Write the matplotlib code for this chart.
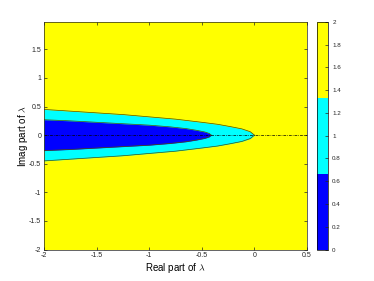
import matplotlib
matplotlib.use('Agg')
import matplotlib.pyplot as plt
import numpy as np
from matplotlib.colors import ListedColormap, Normalize
from matplotlib.cm import ScalarMappable

plt.rcParams['font.family'] = ['Liberation Sans', 'DejaVu Sans']
plt.rcParams['mathtext.fontset'] = 'cm'

# boundary of the region with 1 (cyan) root count, half width vs real part
cyan_x = [-2.0, -1.75, -1.5, -1.25, -1.0, -0.75, -0.5, -0.35, -0.23, -0.12, -0.04, 0.0]
cyan_h = [0.45, 0.42, 0.39, 0.36, 0.32, 0.28, 0.225, 0.19, 0.15, 0.11, 0.06, 0.0]
# boundary of the region with 0 (blue)
blue_x = [-2.0, -1.75, -1.5, -1.25, -1.0, -0.8, -0.65, -0.55, -0.47, -0.43, -0.41]
blue_h = [0.27, 0.25, 0.225, 0.2, 0.175, 0.145, 0.115, 0.085, 0.055, 0.03, 0.0]

levels = [0, 1, 2]
colors = ['#0000ff', '#00ffff', '#ffff00']
cb_ticks = np.arange(0, 2.01, 0.2)

fig = plt.figure(figsize=(3.74, 2.81), dpi=100)
ax = fig.add_axes([0.1176, 0.112, 0.7034, 0.81])
cax = fig.add_axes([0.8476, 0.112, 0.0294, 0.81])

ax.set_facecolor(colors[2])
edge = '#4d4d00'
ax.fill_between(cyan_x, -np.array(cyan_h), cyan_h, color=colors[1], lw=0)
ax.fill_between(blue_x, -np.array(blue_h), blue_h, color=colors[0], lw=0)
for bx, bh in [(cyan_x, cyan_h), (blue_x, blue_h)]:
    ax.plot(bx, bh, color=edge, lw=0.5)
    ax.plot(bx, -np.array(bh), color=edge, lw=0.5)
ax.plot([-2, 0.5], [0, 0], color='k', lw=0.5, ls='-.', dashes=(4, 1.5, 1, 1.5))

ax.set_xlim(-2, 0.5)
ax.set_ylim(-2, 1.98)
ax.set_xticks(np.arange(-2, 0.51, 0.5))
ax.set_xticklabels(['-2', '-1.5', '-1', '-0.5', '0', '0.5'])
ax.set_yticks(np.arange(-2, 1.51, 0.5))
ax.set_yticklabels(['-2', '-1.5', '-1', '-0.5', '0', '0.5', '1', '1.5'])
ax.tick_params(direction='in', length=2.5, width=0.5, labelsize=5, top=True, right=True,
               colors='#262626', pad=2)
for s in ax.spines.values():
    s.set_linewidth(0.5)
    s.set_color('#262626')
ax.set_xlabel(r'Real part of $\lambda$', fontsize=7, labelpad=1)
ax.set_ylabel(r'Imag part of $\lambda$', fontsize=7, labelpad=-1)

sm = ScalarMappable(norm=Normalize(0, 2), cmap=ListedColormap(colors))
cb = fig.colorbar(sm, cax=cax, ticks=cb_ticks)
cb.ax.set_yticklabels(['0', '0.2', '0.4', '0.6', '0.8', '1', '1.2', '1.4', '1.6', '1.8', '2'])
cb.ax.tick_params(direction='in', length=2.5, width=0.5, labelsize=4.5, colors='#262626', pad=3)
cb.outline.set_linewidth(0.5)

fig.savefig('out.png', dpi=100)
